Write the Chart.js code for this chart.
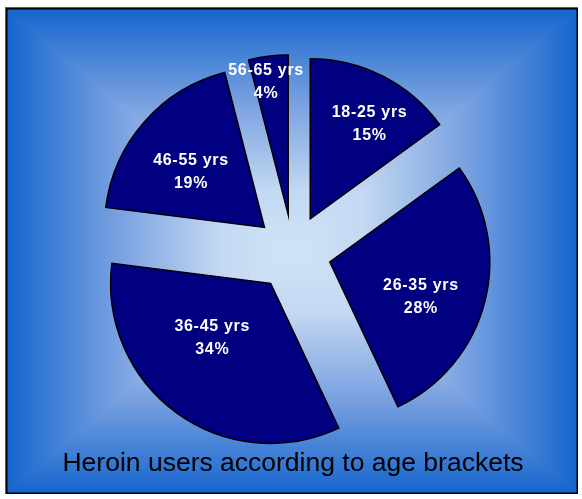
<!DOCTYPE html>
<html>
<head>
<meta charset="utf-8">
<script src="https://cdn.jsdelivr.net/npm/chart.js@4.4.1/dist/chart.umd.min.js"></script>
<style>
  html, body { margin: 0; padding: 0; background: #fff; }
  #wrap { width: 582px; height: 499px; }
</style>
</head>
<body>
<div id="wrap"><canvas id="pieChart" width="582" height="499"></canvas></div>
<script>
// Datos del gráfico
const brackets = ['18-25 yrs', '26-35 yrs', '36-45 yrs', '46-55 yrs', '56-65 yrs'];
const shares = [15, 28, 34, 19, 4];
const titleText = 'Heroin users according to age brackets';

// Posición de cada etiqueta: fracción del radio y giro en grados
const labelSpots = [[0.70, 5], [0.61, 6.6], [0.50, 10.9], [0.575, -4.4], [0.84, -2.3]];
const explode = 38;

// Degradado rectangular desde el centro (se genera una sola vez)
function buildBackground(w, h) {
  const off = document.createElement('canvas');
  off.width = w;
  off.height = h;
  const octx = off.getContext('2d');
  const img = octx.createImageData(w, h);
  const stops = [[0, [208, 227, 247]], [0.25, [195, 216, 242]], [0.6, [123, 162, 225]], [1, [21, 101, 205]]];
  const cx = (w - 1) / 2, cy = (h - 1) / 2;
  for (let y = 0; y < h; y++) {
    for (let x = 0; x < w; x++) {
      const f = Math.min(1, Math.max(Math.abs(x - cx) / cx, Math.abs(y - cy) / cy));
      let k = 1;
      while (k < stops.length - 1 && f > stops[k][0]) k++;
      const a = stops[k - 1], b = stops[k];
      const tt = (f - a[0]) / (b[0] - a[0]);
      const p = (y * w + x) * 4;
      for (let c = 0; c < 3; c++) img.data[p + c] = Math.round(a[1][c] + (b[1][c] - a[1][c]) * tt);
      img.data[p + 3] = 255;
    }
  }
  octx.putImageData(img, 0, 0);
  return off;
}
const bgImage = buildBackground(572, 486);

const framePlugin = {
  id: 'frame',
  beforeDraw(chart) {
    const ctx = chart.ctx;
    ctx.save();
    ctx.fillStyle = '#1a6ad2';
    ctx.fillRect(5, 7, 573, 487);
    ctx.drawImage(bgImage, 6, 8);
    ctx.strokeStyle = '#000';
    ctx.lineWidth = 1.5;
    ctx.strokeRect(6.75, 8.75, 570.5, 484.5);
    ctx.restore();
  }
};

// Separar las porciones a lo largo de su ángulo medio
const explodePlugin = {
  id: 'explode',
  afterDatasetsUpdate(chart) {
    chart.getDatasetMeta(0).data.forEach(arc => {
      const mid = (arc.startAngle + arc.endAngle) / 2;
      arc.x += Math.cos(mid) * explode;
      arc.y += Math.sin(mid) * explode;
    });
  }
};

// Etiquetas blancas dentro de cada porción
const labelPlugin = {
  id: 'sliceLabels',
  afterDatasetsDraw(chart) {
    const ctx = chart.ctx;
    ctx.save();
    ctx.fillStyle = '#fff';
    ctx.font = 'bold 16px "Liberation Sans", Arial, sans-serif';
    ctx.letterSpacing = '0.7px';
    ctx.textAlign = 'center';
    ctx.textBaseline = 'middle';
    chart.getDatasetMeta(0).data.forEach((arc, i) => {
      const spot = labelSpots[i];
      const ang = (arc.startAngle + arc.endAngle) / 2 + spot[1] * Math.PI / 180;
      const rad = arc.outerRadius * spot[0];
      const x = arc.x + Math.cos(ang) * rad;
      const y = arc.y + Math.sin(ang) * rad;
      ctx.fillText(brackets[i], x, y - 11.5);
      ctx.fillText(shares[i] + '%', x, y + 11.5);
    });
    ctx.restore();
  }
};

const ctx = document.getElementById('pieChart').getContext('2d');
const heroinChart = new Chart(ctx, {
  type: 'pie',
  data: {
    labels: brackets,
    datasets: [{
      data: shares,
      backgroundColor: '#000080',
      borderColor: '#000000',
      borderWidth: 1.5,
      borderJoinStyle: 'miter',
      radius: 160
    }]
  },
  options: {
    responsive: false,
    animation: false,
    events: [],
    layout: { padding: { top: 61, bottom: 7, left: 4, right: 0 } },
    plugins: {
      legend: { display: false },
      tooltip: { enabled: false },
      title: {
        display: true,
        text: titleText,
        position: 'bottom',
        color: '#000',
        font: { family: '"Liberation Sans", Arial, sans-serif', size: 26.5, weight: 'normal' },
        padding: { top: 4, bottom: 12 }
      }
    }
  },
  plugins: [framePlugin, explodePlugin, labelPlugin]
});
</script>
</body>
</html>
